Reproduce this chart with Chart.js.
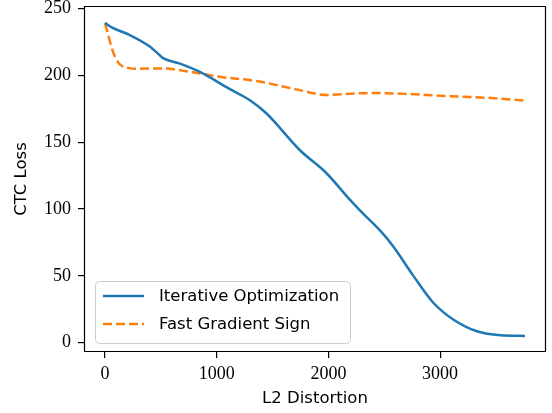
<!DOCTYPE html>
<html>
<head>
<meta charset="utf-8">
<script src="https://cdn.jsdelivr.net/npm/chart.js@4"></script>
<style>
  html, body { margin: 0; padding: 0; background: #fff; }
  #wrap { width: 552px; height: 413px; }
</style>
</head>
<body>
<div id="wrap"><canvas id="lossChart" width="552" height="413"></canvas></div>
<script>
// Iterative Optimization (blue, solid)
const iterX = [0, 60, 216, 395, 485, 520, 665, 845, 1114, 1294, 1444, 1743, 1983, 2192, 2282, 2462, 2581, 2761, 2941, 3121, 3330, 3540, 3760];
const iterY = [239.4, 236, 230.5, 222, 215.5, 213, 209, 202.8, 190, 181.6, 171.7, 144.2, 126.8, 107, 99, 84, 72, 50, 29.7, 17.2, 8.5, 5.5, 5];

// Fast Gradient Sign (orange, dashed)
const fgsX = [0, 30, 66, 126, 216, 300, 512, 755, 1024, 1357, 1713, 1983, 2252, 2432, 2700, 3001, 3420, 3765];
const fgsY = [239, 230, 219, 209, 205.5, 205, 205.3, 202.8, 199, 195.8, 189.6, 185.4, 186.6, 186.8, 186.2, 184.8, 183.3, 181.1];

const xTicks = [0, 1000, 2000, 3000];
const yTicks = [0, 50, 100, 150, 200, 250];

const seriesNames = ['Iterative Optimization', 'Fast Gradient Sign'];

function toPoints(xs, ys) {
    return xs.map((x, i) => ({ x: x, y: ys[i] }));
}

const serif = "'Liberation Serif', 'DejaVu Serif', serif";
const sans = "'DejaVu Sans', sans-serif";

// frame around the plot area + legend inside it
const framePlugin = {
    id: 'frameAndLegend',
    afterDraw(chart) {
        const ctx = chart.ctx;
        const a = chart.chartArea;
        const l = Math.round(a.left) + 0.5, t = Math.round(a.top) + 0.5;
        const r = Math.round(a.right) - 0.5, b = Math.round(a.bottom) - 0.5;
        ctx.save();
        ctx.strokeStyle = '#000';
        ctx.lineWidth = 1.2;
        ctx.beginPath();
        ctx.moveTo(l, t); ctx.lineTo(r, t); ctx.lineTo(r, b); ctx.lineTo(l, b); ctx.closePath();
        ctx.stroke();

        // legend
        const bx = 95, by = 281, bw = 255, bh = 62;
        ctx.beginPath();
        ctx.roundRect(bx + 0.5, by + 0.5, bw, bh, 4);
        ctx.fillStyle = 'rgba(255,255,255,0.8)';
        ctx.fill();
        ctx.strokeStyle = '#cccccc';
        ctx.lineWidth = 1;
        ctx.stroke();

        ctx.font = '16.5px ' + sans;
        ctx.textBaseline = 'middle';
        ctx.fillStyle = '#000';
        chart.data.datasets.forEach((ds, i) => {
            const ly = by + 15 + i * 28;
            ctx.beginPath();
            ctx.setLineDash(ds.borderDash || []);
            ctx.strokeStyle = ds.borderColor;
            ctx.lineWidth = ds.borderWidth;
            ctx.moveTo(103, ly);
            ctx.lineTo(144, ly);
            ctx.stroke();
            ctx.setLineDash([]);
            ctx.fillText(ds.label, 159, ly + 1);
        });
        ctx.restore();
    }
};

const ctx = document.getElementById('lossChart').getContext('2d');
new Chart(ctx, {
    type: 'line',
    data: {
        datasets: [{
            label: seriesNames[0],
            data: toPoints(iterX, iterY),
            borderColor: '#1f77b4',
            borderWidth: 2.5,
            pointRadius: 0,
            cubicInterpolationMode: 'monotone',
            fill: false
        }, {
            label: seriesNames[1],
            data: toPoints(fgsX, fgsY),
            borderColor: '#ff7f0e',
            borderWidth: 2.5,
            borderDash: [9, 4],
            pointRadius: 0,
            cubicInterpolationMode: 'monotone',
            fill: false
        }]
    },
    options: {
        responsive: false,
        animation: false,
        layout: { padding: { left: 0, right: 6, top: 6, bottom: 0 } },
        plugins: {
            legend: { display: false },
            tooltip: { enabled: false }
        },
        scales: {
            x: {
                type: 'linear',
                min: -188,
                max: 3948,
                afterBuildTicks: (s) => { s.ticks = xTicks.map(v => ({ value: v })); },
                afterFit: (s) => { s.height = 61; s.paddingLeft = 0; s.paddingRight = 0; },
                border: { display: false },
                grid: { drawOnChartArea: false, drawTicks: true, tickLength: 6, color: '#000', lineWidth: 1.2 },
                ticks: { color: '#000', font: { family: serif, size: 18 }, padding: 5, maxRotation: 0, callback: (v) => String(v) },
                title: { display: true, text: 'L2 Distortion', color: '#000', font: { family: sans, size: 16.5 }, padding: { top: 2 } }
            },
            y: {
                type: 'linear',
                min: -7,
                max: 252,
                afterBuildTicks: (s) => { s.ticks = yTicks.map(v => ({ value: v })); },
                afterFit: (s) => { s.width = 84; s.paddingTop = 0; s.paddingBottom = 0; },
                border: { display: false },
                grid: { drawOnChartArea: false, drawTicks: true, tickLength: 6, color: '#000', lineWidth: 1.2 },
                ticks: { color: '#000', font: { family: serif, size: 18 }, padding: 7, callback: (v) => String(v) },
                title: { display: true, text: 'CTC Loss', color: '#000', font: { family: sans, size: 16.5 }, padding: { top: 12, bottom: 2 } }
            }
        }
    },
    plugins: [framePlugin]
});
</script>
</body>
</html>
